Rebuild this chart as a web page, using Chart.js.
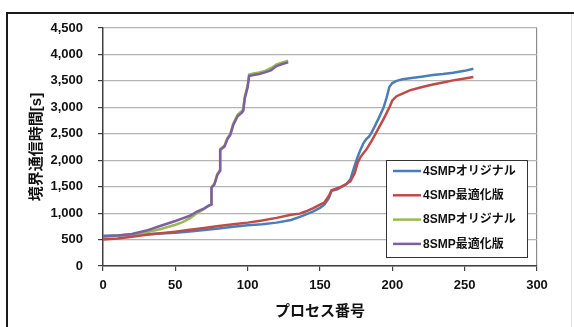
<!DOCTYPE html>
<html>
<head>
<meta charset="utf-8">
<script src="https://cdn.jsdelivr.net/npm/chart.js@4/dist/chart.umd.min.js"></script>
<style>
  html, body { margin: 0; padding: 0; background: #fff; }
  #wrap { width: 574px; height: 327px; }
</style>
</head>
<body>
<div id="wrap"><canvas id="chart" width="574" height="327"></canvas></div>
<script>
// データ
var seriesLabels = ['4SMPオリジナル', '4SMP最適化版', '8SMPオリジナル', '8SMP最適化版'];
var seriesColors = ['#4a7ebb', '#be4b48', '#98b954', '#7d60a0'];

var smp4X    = [0, 10, 20, 30, 40, 50, 60, 70, 80, 90, 100, 110, 120, 130, 136, 140, 145, 150, 153, 156, 158, 162, 165, 168, 171, 174, 176, 178, 180, 182, 184, 186, 188, 191, 194, 196, 198, 200, 203, 207, 212, 220, 228, 235, 242, 250, 256];
var smp4Orig = [570, 575, 585, 600, 615, 630, 650, 680, 710, 740, 770, 790, 820, 870, 930, 970, 1030, 1100, 1160, 1280, 1420, 1450, 1500, 1540, 1640, 1900, 2060, 2200, 2320, 2400, 2450, 2540, 2650, 2820, 3000, 3180, 3390, 3460, 3500, 3530, 3550, 3580, 3610, 3630, 3655, 3690, 3730];
var smp4Opt  = [500, 520, 555, 590, 620, 650, 685, 720, 755, 790, 820, 860, 910, 970, 990, 1030, 1090, 1160, 1200, 1320, 1430, 1470, 1500, 1550, 1600, 1760, 1950, 2060, 2130, 2200, 2290, 2380, 2480, 2630, 2780, 2890, 3000, 3130, 3210, 3260, 3320, 3380, 3430, 3470, 3510, 3545, 3575];

var smp8X    = [0, 10, 20, 30, 40, 50, 55, 60, 65, 70, 73, 75, 75, 77, 79, 80, 81, 81, 84, 86, 88, 90, 93, 96, 97, 98, 100, 101, 104, 108, 112, 116, 120, 124, 128];
var smp8Orig = [560, 575, 600, 640, 700, 780, 830, 900, 1000, 1080, 1140, 1170, 1490, 1560, 1740, 1780, 1820, 2210, 2280, 2420, 2500, 2690, 2860, 2930, 2970, 3200, 3420, 3620, 3640, 3660, 3690, 3740, 3810, 3850, 3880];
var smp8Opt  = [560, 575, 605, 670, 760, 850, 900, 950, 1030, 1090, 1140, 1160, 1480, 1540, 1720, 1760, 1800, 2190, 2260, 2400, 2480, 2660, 2830, 2900, 2940, 3170, 3380, 3590, 3610, 3630, 3660, 3700, 3780, 3820, 3850];

var xTicksMax = 300;
var yTicksMax = 4500;

function toPoints(xs, ys) {
  return xs.map(function(x, i) { return { x: x, y: ys[i] }; });
}

var seriesData = [
  toPoints(smp4X, smp4Orig),
  toPoints(smp4X, smp4Opt),
  toPoints(smp8X, smp8Orig),
  toPoints(smp8X, smp8Opt)
];

var baseFont = "'Liberation Sans', 'Noto Sans CJK JP', sans-serif";

// 外枠
var framePlugin = {
  id: 'frame',
  beforeDraw: function(chart) {
    var c = chart.ctx;
    c.save();
    c.strokeStyle = '#e2e2e2';
    c.lineWidth = 1;
    c.beginPath();
    c.moveTo(571.5, 14);
    c.lineTo(571.5, 327);
    c.stroke();
    c.strokeStyle = '#1a1a1a';
    c.lineWidth = 2;
    c.beginPath();
    c.moveTo(574, 13);
    c.lineTo(7, 13);
    c.lineTo(7, 327);
    c.stroke();
    c.restore();
  }
};

// グラフ内の凡例
var legendPlugin = {
  id: 'boxLegend',
  afterDraw: function(chart) {
    var c = chart.ctx;
    var bx = 386.5, by = 160.5, bw = 141, bh = 97;
    c.save();
    c.fillStyle = '#fff';
    c.fillRect(bx, by, bw, bh);
    c.strokeStyle = '#333';
    c.lineWidth = 1;
    c.strokeRect(bx, by, bw, bh);
    c.font = 'bold 12px ' + baseFont;
    c.textBaseline = 'middle';
    c.fillStyle = '#111';
    chart.data.datasets.forEach(function(ds, i) {
      var y = by + 10.5 + i * 24.3;
      c.strokeStyle = ds.borderColor;
      c.lineWidth = 2.5;
      c.beginPath();
      c.moveTo(393, y);
      c.lineTo(421, y);
      c.stroke();
      c.fillText(ds.label, 423, y + 0.5);
    });
    c.restore();
  }
};

var ctx = document.getElementById('chart').getContext('2d');
var chart = new Chart(ctx, {
  type: 'line',
  data: {
    datasets: seriesData.map(function(pts, i) {
      return {
        label: seriesLabels[i],
        data: pts,
        borderColor: seriesColors[i],
        backgroundColor: seriesColors[i],
        borderWidth: 2.5,
        pointRadius: 0,
        tension: 0,
        fill: false,
        order: 4 - i
      };
    })
  },
  options: {
    responsive: false,
    animation: false,
    devicePixelRatio: 1,
    layout: { padding: { left: 0, top: 28, right: 37, bottom: 0 } },
    plugins: {
      legend: { display: false },
      tooltip: { enabled: false }
    },
    scales: {
      x: {
        type: 'linear',
        min: 0,
        max: xTicksMax,
        afterFit: function(scale) { scale.height = 61; },
        ticks: {
          stepSize: 50,
          color: '#111',
          padding: 7,
          maxRotation: 0,
          font: { family: baseFont, size: 13, weight: 'bold' }
        },
        grid: {
          drawOnChartArea: true,
          color: function(c) { return c.tick && c.tick.value === xTicksMax ? '#8c8c8c' : 'rgba(0,0,0,0)'; },
          tickColor: '#404040',
          tickLength: 5,
          lineWidth: 1.2
        },
        border: { color: '#404040', width: 1.5 },
        title: {
          display: true,
          text: 'プロセス番号',
          color: '#111',
          padding: { top: 0, bottom: 6 },
          font: { family: baseFont, size: 15, weight: 'bold' }
        }
      },
      y: {
        min: 0,
        max: yTicksMax,
        afterFit: function(scale) { scale.width = 103; },
        ticks: {
          stepSize: 500,
          color: '#111',
          padding: 15,
          font: { family: baseFont, size: 13, weight: 'bold' },
          callback: function(v) { return v.toLocaleString('en-US'); }
        },
        grid: {
          color: '#b4b4b4',
          tickColor: '#404040',
          tickLength: 5,
          lineWidth: 1.2
        },
        border: { color: '#404040', width: 1.5 },
        title: {
          display: true,
          text: '境界通信時間[s]',
          color: '#111',
          padding: { top: 28, bottom: 0 },
          font: { family: baseFont, size: 15, weight: 'bold' }
        }
      }
    }
  },
  plugins: [framePlugin, legendPlugin]
});
</script>
</body>
</html>
